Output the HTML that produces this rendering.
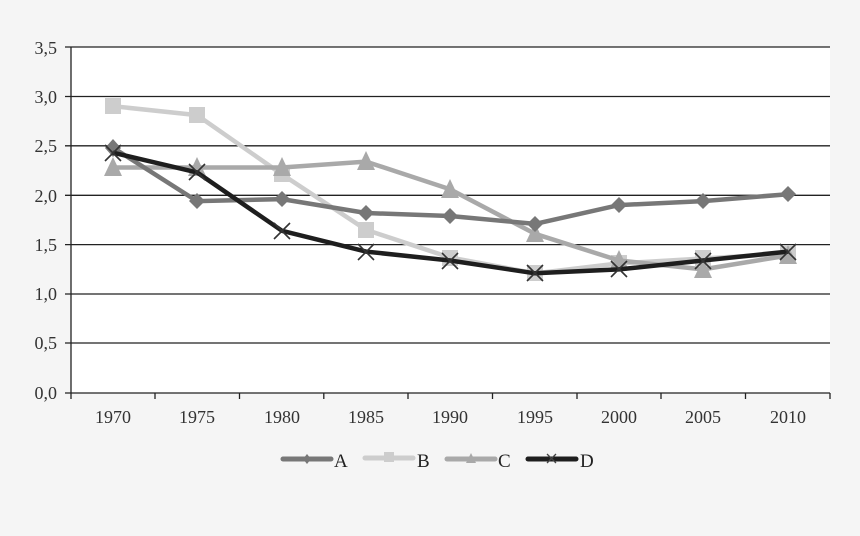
<!DOCTYPE html>
<html><head><meta charset="utf-8"><style>
html,body{margin:0;padding:0;background:#f5f5f5;}
svg{display:block;font-family:"Liberation Serif","Times New Roman",serif;}
</style></head><body>
<svg width="860" height="536" viewBox="0 0 860 536">
<rect width="860" height="536" fill="#f5f5f5"/>
<rect x="71" y="47" width="759" height="346" fill="#fff"/>
<g stroke="#222" stroke-width="1.3">
<line x1="65" y1="47" x2="830" y2="47"/>
<line x1="65" y1="96.5" x2="830" y2="96.5"/>
<line x1="65" y1="145.8" x2="830" y2="145.8"/>
<line x1="65" y1="195.3" x2="830" y2="195.3"/>
<line x1="65" y1="244.6" x2="830" y2="244.6"/>
<line x1="65" y1="294" x2="830" y2="294"/>
<line x1="65" y1="343" x2="830" y2="343"/>
<line x1="65" y1="393" x2="830" y2="393"/>
<line x1="71" y1="47" x2="71" y2="393"/>
<line x1="71" y1="393" x2="71" y2="399"/><line x1="155" y1="393" x2="155" y2="399"/><line x1="239.5" y1="393" x2="239.5" y2="399"/><line x1="323.8" y1="393" x2="323.8" y2="399"/><line x1="408" y1="393" x2="408" y2="399"/><line x1="492.5" y1="393" x2="492.5" y2="399"/><line x1="577" y1="393" x2="577" y2="399"/><line x1="661" y1="393" x2="661" y2="399"/><line x1="745.5" y1="393" x2="745.5" y2="399"/><line x1="830" y1="393" x2="830" y2="399"/>
</g>
<g font-size="18" fill="#333" text-anchor="end">
<text x="57" y="54">3,5</text><text x="57" y="103">3,0</text><text x="57" y="152">2,5</text><text x="57" y="202">2,0</text><text x="57" y="251">1,5</text><text x="57" y="300">1,0</text><text x="57" y="349">0,5</text><text x="57" y="399">0,0</text>
</g>
<g font-size="18" fill="#333" text-anchor="middle">
<text x="113" y="423">1970</text><text x="197" y="423">1975</text><text x="282" y="423">1980</text><text x="366" y="423">1985</text><text x="450" y="423">1990</text><text x="535" y="423">1995</text><text x="619" y="423">2000</text><text x="703" y="423">2005</text><text x="788" y="423">2010</text>
</g>
<!-- B -->
<polyline fill="none" stroke="#cdcdcd" stroke-width="4.5" stroke-linejoin="round" points="113,106.2 197,115.1 282,174.4 366,229.8 450,257.5 535,273.3 619,263.4 703,258.5 788,253.5"/>
<g fill="#cdcdcd">
<rect x="105" y="98" width="16" height="16"/><rect x="189" y="107" width="16" height="16"/><rect x="274" y="166" width="16" height="16"/><rect x="358" y="222" width="16" height="16"/><rect x="442" y="250" width="16" height="16"/><rect x="527" y="265" width="16" height="16"/><rect x="611" y="255" width="16" height="16"/><rect x="695" y="250" width="16" height="16"/><rect x="780" y="245" width="16" height="16"/>
</g>
<!-- C -->
<polyline fill="none" stroke="#a9a9a9" stroke-width="4.5" stroke-linejoin="round" points="113,167.5 197,167.5 282,167.5 366,161.6 450,189.3 535,233.8 619,260.5 703,269.4 788,255.5"/>
<g fill="#a9a9a9">
<polygon points="113,157 104,176 122,176"/><polygon points="197,157 188,176 206,176"/><polygon points="282,157 273,176 291,176"/><polygon points="366,151 357,170 375,170"/><polygon points="450,179 441,198 459,198"/><polygon points="535,223 526,242 544,242"/><polygon points="619,250 610,269 628,269"/><polygon points="703,259 694,278 712,278"/><polygon points="788,245 779,264 797,264"/>
</g>
<!-- A -->
<polyline fill="none" stroke="#777" stroke-width="4.5" stroke-linejoin="round" points="113,147.7 197,201.1 282,199.1 366,213 450,216 535,223.9 619,205.1 703,201.1 788,194.2"/>
<g fill="#777">
<polygon points="113,139 121,148 113,157 105,148"/><polygon points="197,193 205,201 197,209 189,201"/><polygon points="282,191 290,199 282,207 274,199"/><polygon points="366,205 374,213 366,221 358,213"/><polygon points="450,208 458,216 450,224 442,216"/><polygon points="535,216 543,224 535,232 527,224"/><polygon points="619,197 627,205 619,213 611,205"/><polygon points="703,193 711,201 703,209 695,201"/><polygon points="788,186 796,194 788,202 780,194"/>
</g>
<!-- D -->
<polyline fill="none" stroke="#1e1e1e" stroke-width="4.5" stroke-linejoin="round" points="113,152.7 197,172.4 282,230.8 366,251.6 450,260.5 535,273.3 619,269.4 703,260.5 788,251.6"/>
<g stroke="#333" stroke-width="1.6">
<path d="M105,145l16,16M121,145l-16,16"/><path d="M189,164l16,16M205,164l-16,16"/><path d="M274,223l16,16M290,223l-16,16"/><path d="M358,244l16,16M374,244l-16,16"/><path d="M442,253l16,16M458,253l-16,16"/><path d="M527,265l16,16M543,265l-16,16"/><path d="M611,261l16,16M627,261l-16,16"/><path d="M695,253l16,16M711,253l-16,16"/><path d="M780,244l16,16M796,244l-16,16"/>
</g>
<!-- legend -->
<g stroke-width="5" stroke-linecap="round">
<line x1="283" y1="459" x2="331" y2="459" stroke="#777"/>
<line x1="365" y1="458" x2="413" y2="458" stroke="#cdcdcd"/>
<line x1="447" y1="459" x2="495" y2="459" stroke="#a9a9a9"/>
<line x1="528" y1="459" x2="576" y2="459" stroke="#1e1e1e"/>
</g>
<polygon points="307,454 311,459 307,464 303,459" fill="#777"/>
<rect x="384" y="452" width="10" height="10" fill="#cdcdcd"/>
<polygon points="471,453 466,463 476,463" fill="#a9a9a9"/>
<path d="M547,454l9,9M556,454l-9,9" stroke="#444" stroke-width="1.3"/>
<g font-size="19" fill="#222">
<text x="334" y="467">A</text><text x="417" y="467">B</text><text x="498" y="467">C</text><text x="580" y="467">D</text>
</g>
</svg>
</body></html>
